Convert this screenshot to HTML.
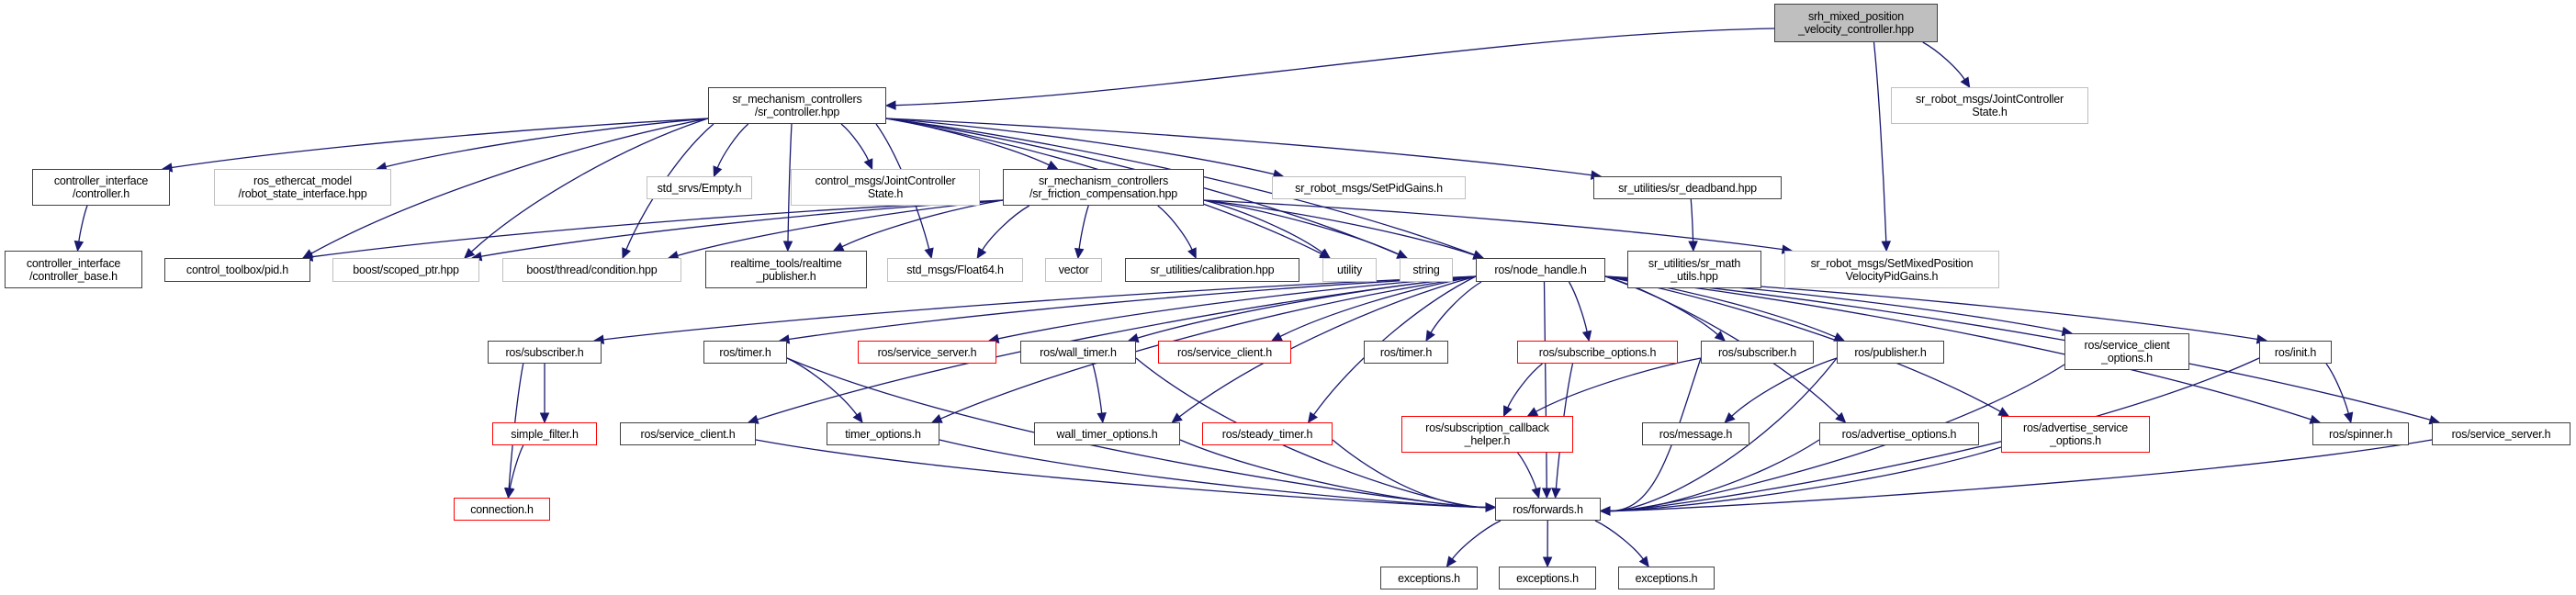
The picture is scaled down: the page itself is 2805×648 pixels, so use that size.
<!DOCTYPE html>
<html><head><meta charset="utf-8">
<style>
html,body{margin:0;padding:0;background:#fff;}
#c{position:relative;width:2805px;height:648px;overflow:hidden;background:#fff;}
.n{position:absolute;box-sizing:border-box;border:1.5px solid #404040;background:#fff;display:flex;align-items:center;justify-content:center;text-align:center;font-family:"Liberation Sans",sans-serif;font-size:12.5px;line-height:14px;color:#000;z-index:2;white-space:nowrap;letter-spacing:-0.2px;}
.g{border:1.5px solid #bfbfbf;}
.r{border:1.5px solid #ff0000;}
.root{background:#bfbfbf;border-color:#404040;}
svg{position:absolute;left:0;top:0;z-index:1;}
</style></head><body><div id="c">
<svg id="s" width="2805" height="648"></svg>
<div class="n root" id="root" style="left:1932px;top:4px;width:178px;height:42px">srh_mixed_position<br>_velocity_controller.hpp</div>
<div class="n" id="ctrl" style="left:771px;top:95px;width:194px;height:40px">sr_mechanism_controllers<br>/sr_controller.hpp</div>
<div class="n g" id="jcs2" style="left:2059px;top:95px;width:215px;height:40px">sr_robot_msgs/JointController<br>State.h</div>
<div class="n" id="cictrl" style="left:35px;top:184px;width:150px;height:40px">controller_interface<br>/controller.h</div>
<div class="n g" id="ether" style="left:233px;top:184px;width:193px;height:40px">ros_ethercat_model<br>/robot_state_interface.hpp</div>
<div class="n g" id="empty" style="left:704px;top:192px;width:115px;height:25px">std_srvs/Empty.h</div>
<div class="n g" id="cmjcs" style="left:861px;top:184px;width:206px;height:40px">control_msgs/JointController<br>State.h</div>
<div class="n" id="fric" style="left:1092px;top:184px;width:219px;height:40px">sr_mechanism_controllers<br>/sr_friction_compensation.hpp</div>
<div class="n g" id="setpid" style="left:1385px;top:192px;width:211px;height:25px">sr_robot_msgs/SetPidGains.h</div>
<div class="n" id="dead" style="left:1735px;top:192px;width:205px;height:25px">sr_utilities/sr_deadband.hpp</div>
<div class="n" id="cibase" style="left:5px;top:273px;width:150px;height:41px">controller_interface<br>/controller_base.h</div>
<div class="n" id="pid" style="left:179px;top:281px;width:159px;height:26px">control_toolbox/pid.h</div>
<div class="n g" id="scoped" style="left:362px;top:281px;width:160px;height:26px">boost/scoped_ptr.hpp</div>
<div class="n g" id="cond" style="left:547px;top:281px;width:195px;height:26px">boost/thread/condition.hpp</div>
<div class="n" id="rtpub" style="left:768px;top:273px;width:176px;height:41px">realtime_tools/realtime<br>_publisher.h</div>
<div class="n g" id="f64" style="left:966px;top:281px;width:148px;height:26px">std_msgs/Float64.h</div>
<div class="n g" id="vector" style="left:1138px;top:281px;width:62px;height:26px">vector</div>
<div class="n" id="calib" style="left:1225px;top:281px;width:190px;height:26px">sr_utilities/calibration.hpp</div>
<div class="n g" id="utility" style="left:1440px;top:281px;width:59px;height:26px">utility</div>
<div class="n g" id="string" style="left:1524px;top:281px;width:58px;height:26px">string</div>
<div class="n" id="nh" style="left:1607px;top:281px;width:141px;height:26px">ros/node_handle.h</div>
<div class="n" id="math" style="left:1772px;top:273px;width:146px;height:41px">sr_utilities/sr_math<br>_utils.hpp</div>
<div class="n g" id="setmixed" style="left:1943px;top:273px;width:234px;height:41px">sr_robot_msgs/SetMixedPosition<br>VelocityPidGains.h</div>

<div class="n" id="sub1" style="left:531px;top:371px;width:124px;height:25px">ros/subscriber.h</div>
<div class="n" id="timer1" style="left:766px;top:371px;width:91px;height:25px">ros/timer.h</div>
<div class="n r" id="ssrvr" style="left:934px;top:371px;width:151px;height:25px">ros/service_server.h</div>
<div class="n" id="wall" style="left:1111px;top:371px;width:126px;height:25px">ros/wall_timer.h</div>
<div class="n r" id="sclr" style="left:1261px;top:371px;width:145px;height:25px">ros/service_client.h</div>
<div class="n" id="timer2" style="left:1485px;top:371px;width:92px;height:25px">ros/timer.h</div>
<div class="n r" id="subopt" style="left:1652px;top:371px;width:175px;height:25px">ros/subscribe_options.h</div>
<div class="n" id="sub2" style="left:1852px;top:371px;width:123px;height:25px">ros/subscriber.h</div>
<div class="n" id="pub" style="left:2000px;top:371px;width:117px;height:25px">ros/publisher.h</div>
<div class="n" id="scopts" style="left:2248px;top:363px;width:136px;height:40px">ros/service_client<br>_options.h</div>
<div class="n" id="init" style="left:2460px;top:371px;width:79px;height:25px">ros/init.h</div>

<div class="n r" id="simple" style="left:536px;top:460px;width:114px;height:25px">simple_filter.h</div>
<div class="n" id="scl" style="left:675px;top:460px;width:148px;height:25px">ros/service_client.h</div>
<div class="n" id="topt" style="left:900px;top:460px;width:123px;height:25px">timer_options.h</div>
<div class="n" id="wtopt" style="left:1126px;top:460px;width:159px;height:25px">wall_timer_options.h</div>
<div class="n r" id="steady" style="left:1309px;top:460px;width:142px;height:25px">ros/steady_timer.h</div>
<div class="n r" id="subcb" style="left:1526px;top:453px;width:187px;height:40px">ros/subscription_callback<br>_helper.h</div>
<div class="n" id="msg" style="left:1788px;top:460px;width:117px;height:25px">ros/message.h</div>
<div class="n" id="advopt" style="left:1981px;top:460px;width:174px;height:25px">ros/advertise_options.h</div>
<div class="n r" id="advsvc" style="left:2179px;top:453px;width:162px;height:40px">ros/advertise_service<br>_options.h</div>
<div class="n" id="spin" style="left:2518px;top:460px;width:105px;height:25px">ros/spinner.h</div>
<div class="n" id="ssrv" style="left:2648px;top:460px;width:151px;height:25px">ros/service_server.h</div>

<div class="n r" id="conn" style="left:494px;top:542px;width:105px;height:25px">connection.h</div>
<div class="n" id="fwd" style="left:1628px;top:542px;width:115px;height:25px">ros/forwards.h</div>
<div class="n" id="e1" style="left:1503px;top:617px;width:106px;height:25px">exceptions.h</div>
<div class="n" id="e2" style="left:1632px;top:617px;width:106px;height:25px">exceptions.h</div>
<div class="n" id="e3" style="left:1762px;top:617px;width:105px;height:25px">exceptions.h</div>
</div>
<script>
(function(){
var E=[["root","ctrl","R"],["root","jcs2"],["root","setmixed"],
["ctrl","cictrl"],["ctrl","ether"],["ctrl","empty"],["ctrl","cmjcs"],["ctrl","fric"],["ctrl","setpid"],["ctrl","dead"],["ctrl","pid"],["ctrl","scoped"],["ctrl","cond"],["ctrl","rtpub"],["ctrl","f64"],["ctrl","utility"],["ctrl","string"],["ctrl","nh"],
["cictrl","cibase"],["fric","pid"],["fric","scoped"],["fric","cond"],["fric","rtpub"],["fric","f64"],["fric","vector"],["fric","calib"],["fric","utility"],["fric","string"],["fric","nh"],["fric","setmixed"],["dead","math"],
["nh","sub1"],["nh","timer1"],["nh","ssrvr"],["nh","wall"],["nh","sclr"],["nh","timer2"],["nh","subopt"],["nh","sub2"],["nh","pub"],["nh","scopts"],["nh","init"],["nh","scl"],["nh","topt"],["nh","wtopt"],["nh","steady"],["nh","advopt"],["nh","advsvc"],["nh","spin"],["nh","ssrv"],["nh","fwd"],
["sub1","simple"],["sub1","conn"],["simple","conn"],["timer1","topt"],["timer1","fwd"],["wall","wtopt"],["wall","fwd"],["subopt","subcb"],["subopt","fwd"],["sub2","subcb"],["sub2","fwd"],["pub","msg"],["pub","fwd"],["scopts","fwd"],["init","spin"],["init","fwd"],["scl","fwd"],["topt","fwd"],["wtopt","fwd"],["steady","fwd"],["subcb","fwd"],["advopt","fwd"],["advsvc","fwd"],["ssrv","fwd"],
["fwd","e1"],["fwd","e2"],["fwd","e3"]];
function b(id){var e=document.getElementById(id);return {x1:e.offsetLeft,y1:e.offsetTop,x2:e.offsetLeft+e.offsetWidth,y2:e.offsetTop+e.offsetHeight};}
var s=document.getElementById("s"),h="";
E.forEach(function(d){
 var a=b(d[0]),t=b(d[1]);
 var acx=(a.x1+a.x2)/2,tcx=(t.x1+t.x2)/2;
 var sx,sy=a.y2,ex,ey,c1x,c1y,c2x,c2y;
 var far=Math.abs(tcx-acx)>(a.x2-a.x1)*1.2;
 if(far){sx=tcx<acx?a.x1:a.x2; sy=a.y2-6;}
 else{sx=acx+(tcx-acx)*0.5; sx=Math.max(a.x1+6,Math.min(a.x2-6,sx));}
 if(d[2]=="R"){sx=a.x1;sy=(a.y1+a.y2)/2+6;ex=t.x2;ey=(t.y1+t.y2)/2;c1x=sx-300;c1y=sy+5;c2x=ex+300;c2y=ey-10;}
 else if(d[1]=="fwd"&&Math.abs(acx-tcx)>180){
  ex=acx<tcx?t.x1:t.x2; ey=(t.y1+t.y2)/2+(acx<tcx?-2:2);
  c1x=sx+(ex-sx)*0.3;c1y=sy+(ey-sy)*0.6;c2x=ex+(acx<tcx?-60:60);c2y=ey;}
 else{
  ex=tcx+(acx-tcx)*0.15; ex=Math.max(t.x1+8,Math.min(t.x2-8,ex)); ey=t.y1;
  c1x=sx+(ex-sx)*0.35;c1y=sy+(ey-sy)*0.2;c2x=sx+(ex-sx)*0.75;c2y=sy+(ey-sy)*0.6;}
 var vx=ex-c2x,vy=ey-c2y,L=Math.sqrt(vx*vx+vy*vy)||1;vx/=L;vy/=L;
 var bx=ex-vx*10,by=ey-vy*10;
 h+='<path d="M'+sx+','+sy+' C'+c1x+','+c1y+' '+c2x+','+c2y+' '+bx+','+by+'" fill="none" stroke="#191970" stroke-width="1.3"/>';
 h+='<polygon points="'+ex+','+ey+' '+(bx-vy*4.5)+','+(by+vx*4.5)+' '+(bx+vy*4.5)+','+(by-vx*4.5)+'" fill="#191970" stroke="#191970"/>';
});
s.innerHTML=h;
})();
</script>
</body></html>
